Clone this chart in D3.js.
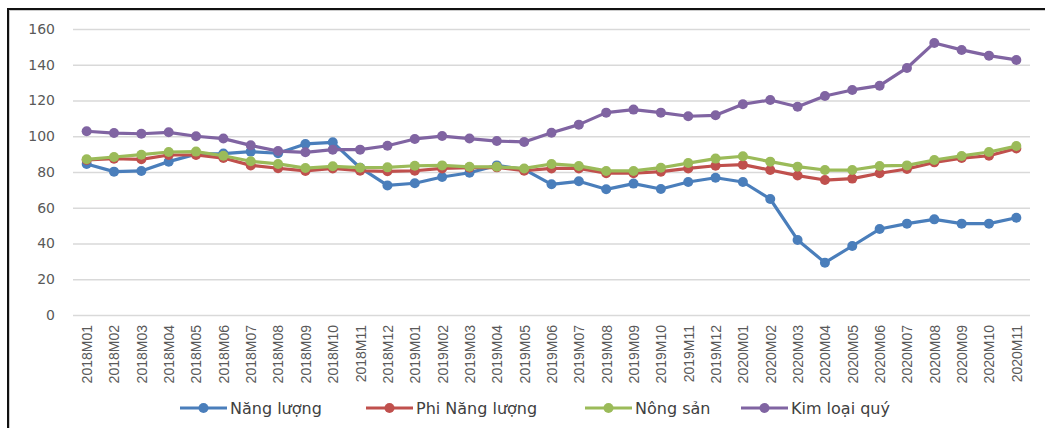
<!DOCTYPE html>
<html>
<head>
<meta charset="utf-8">
<script src="https://cdn.jsdelivr.net/npm/d3@7"></script>
<style>
  body { margin: 0; background: #fff; }
  svg { display: block; font-family: "DejaVu Sans", sans-serif; }
</style>
</head>
<body>
<div id="chart"></div>
<script>
"use strict";

// == DATA ==
var months = [
  "2018M01","2018M02","2018M03","2018M04","2018M05","2018M06","2018M07","2018M08","2018M09","2018M10","2018M11","2018M12",
  "2019M01","2019M02","2019M03","2019M04","2019M05","2019M06","2019M07","2019M08","2019M09","2019M10","2019M11","2019M12",
  "2020M01","2020M02","2020M03","2020M04","2020M05","2020M06","2020M07","2020M08","2020M09","2020M10","2020M11"
];
var nangLuong = [84.5, 80.2, 80.6, 85.8, 90.0, 90.3, 91.4, 90.5, 95.7, 96.6, 82.4, 72.5,
  73.7, 77.2, 79.6, 83.7, 81.5, 73.1, 74.8, 70.3, 73.5, 70.5, 74.4, 76.8,
  74.4, 64.9, 42.0, 29.3, 38.6, 48.1, 51.1, 53.5, 51.1, 51.1, 54.4];
var phiNangLuong = [86.7, 87.4, 87.1, 89.5, 89.5, 87.8, 83.7, 82.1, 80.6, 82.0, 80.7, 80.4,
  80.7, 82.0, 82.4, 82.6, 80.7, 82.0, 82.0, 79.3, 79.3, 80.2, 82.0, 83.5,
  84.1, 81.1, 78.0, 75.5, 76.3, 79.3, 81.7, 85.4, 87.8, 89.1, 93.2];
var nongSan = [87.1, 88.4, 89.7, 91.2, 91.4, 89.1, 86.0, 84.5, 82.2, 83.2, 82.4, 82.6,
  83.5, 83.7, 82.9, 82.9, 82.0, 84.5, 83.4, 80.6, 80.6, 82.4, 85.0, 87.5,
  88.8, 85.8, 83.0, 81.1, 81.1, 83.4, 83.7, 86.7, 89.0, 91.2, 94.5];
var kimLoaiQuy = [102.8, 101.8, 101.4, 102.2, 100.0, 98.7, 94.9, 91.7, 91.0, 92.5, 92.5, 94.7,
  98.5, 100.1, 98.7, 97.3, 96.8, 102.0, 106.5, 113.2, 114.9, 113.2, 111.2, 111.7,
  117.9, 120.3, 116.5, 122.5, 125.9, 128.3, 138.2, 152.2, 148.3, 145.1, 142.7];
var seriesNames = ["Năng lượng", "Phi Năng lượng", "Nông sản", "Kim loại quý"];
var seriesColors = ["#4a7ebb", "#c0504d", "#9bbb59", "#8064a2"];
var yTicks = [0, 20, 40, 60, 80, 100, 120, 140, 160];

var series = [nangLuong, phiNangLuong, nongSan, kimLoaiQuy];

// == BOILERPLATE ==
var W = 1045, H = 428;
var plot = { left: 73, right: 1030, top: 29, bottom: 315 };

var svg = d3.select("#chart")
  .append("svg")
  .attr("width", W)
  .attr("height", H);

// frame around the chart (runs off the right and bottom edges)
svg.append("rect")
  .attr("x", 9).attr("y", 10)
  .attr("width", 1200).attr("height", 600)
  .attr("fill", "none")
  .attr("stroke", "#ccc")
  .attr("stroke-width", 2);
svg.append("rect")
  .attr("x", 8).attr("y", 9)
  .attr("width", 1200).attr("height", 600)
  .attr("fill", "none")
  .attr("stroke", "#111")
  .attr("stroke-width", 2);

// == SCALES ==
var x = d3.scalePoint()
  .domain(months)
  .range([plot.left, plot.right])
  .padding(0.5);

var y = d3.scaleLinear()
  .domain([0, 160])
  .range([plot.bottom, plot.top]);

// == AXES ==
var yAxis = svg.append("g")
  .attr("transform", "translate(" + plot.left + ",0)")
  .call(d3.axisLeft(y).tickValues(yTicks).tickSize(-(plot.right - plot.left)).tickPadding(18));
yAxis.select(".domain").remove();
yAxis.selectAll(".tick line").attr("stroke", "#d9d9d9").attr("stroke-width", 1.5);
yAxis.selectAll(".tick text")
  .attr("fill", "#595959")
  .style("font-size", "14px")
  .style("font-family", "'DejaVu Sans', sans-serif");

var xAxis = svg.append("g")
  .attr("transform", "translate(0," + plot.bottom + ")")
  .call(d3.axisBottom(x).tickSize(0));
xAxis.select(".domain").remove();
xAxis.selectAll(".tick text")
  .attr("fill", "#595959")
  .attr("transform", "rotate(-90)")
  .attr("text-anchor", "end")
  .attr("dx", "-10")
  .attr("dy", "0.35em")
  .attr("y", 0)
  .style("font-size", "14px")
  .style("font-family", "'Liberation Sans', sans-serif");

// == LINES ==
var line = d3.line()
  .x(function (d, i) { return x(months[i]); })
  .y(function (d) { return y(d); });

series.forEach(function (s, k) {
  svg.append("path")
    .datum(s)
    .attr("d", line)
    .attr("fill", "none")
    .attr("stroke", seriesColors[k])
    .attr("stroke-width", 3.2)
    .attr("stroke-linejoin", "round");
  svg.append("g")
    .selectAll("circle")
    .data(s)
    .enter()
    .append("circle")
    .attr("cx", function (d, i) { return x(months[i]); })
    .attr("cy", function (d) { return y(d); })
    .attr("r", 5)
    .attr("fill", seriesColors[k]);
});

// == LEGEND ==
var legendX = [180, 366, 585, 741];
var legend = svg.append("g");
seriesNames.forEach(function (name, k) {
  var g = legend.append("g").attr("transform", "translate(" + legendX[k] + ",408)");
  g.append("line")
    .attr("x1", 0).attr("x2", 47)
    .attr("stroke", seriesColors[k])
    .attr("stroke-width", 3.2);
  g.append("circle").attr("cx", 23.5).attr("r", 5).attr("fill", seriesColors[k]);
  g.append("text")
    .attr("x", 50).attr("dy", "0.36em")
    .attr("fill", "#404040")
    .style("font-size", "16px")
    .text(name);
});
</script>
</body>
</html>
